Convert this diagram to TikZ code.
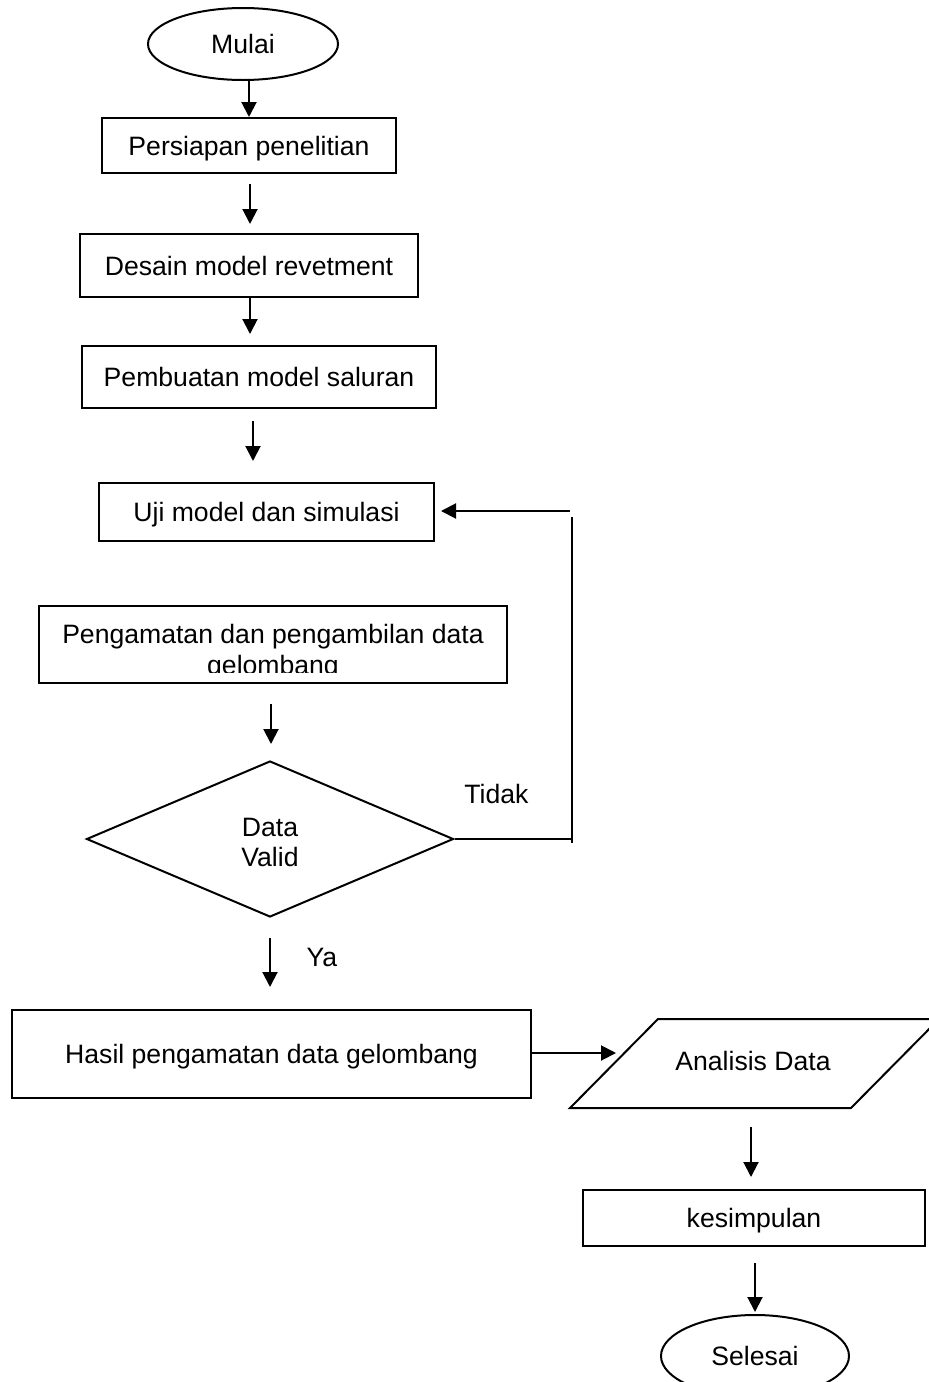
\documentclass[tikz,border=0pt]{standalone}
\usepackage{fontspec}
\setmainfont{Liberation Sans}
\usetikzlibrary{arrows.meta,shapes.geometric,calc}
\begin{document}
\begin{tikzpicture}[x=1pt,y=-1pt,
  every node/.style={font=\fontsize{26.6}{30.6}\selectfont},
  box/.style={draw,line width=2pt,inner sep=0pt,text height=19pt,text depth=0pt},
  term/.style={draw,ellipse,line width=2pt,inner sep=0pt,text height=19pt,text depth=0pt},
  lbl/.style={anchor=base,inner sep=0pt},
  arr/.style={line width=2pt,-{Triangle[length=15pt,width=15pt]}},
  ln/.style={line width=2pt}]
\clip (0,0) rectangle (929,1382);
% nodes
\node[term,minimum width=190pt,minimum height=72pt] (mulai) at (243,44) {Mulai};
\node[box,minimum width=294pt,minimum height=55pt] (box1) at (249,145.5) {Persiapan penelitian};
\node[box,minimum width=338pt,minimum height=63pt] (box2) at (249,265.5) {Desain model revetment};
\node[box,minimum width=354pt,minimum height=62pt] (box3) at (259,377) {Pembuatan model saluran};
\node[box,minimum width=335pt,minimum height=58pt] (uji) at (266.5,512) {Uji model dan simulasi};
\node[box,minimum width=468pt,minimum height=77pt] (obs) at (273,644.5) {};
\begin{scope}
  \clip (41,608) rectangle (505,672);
  \node[lbl] (obs1) at (273,643) {Pengamatan dan pengambilan data};
  \node[lbl] (obs2) at (273,674) {gelombang};
\end{scope}
\node[diamond,draw,line width=2pt,inner sep=0pt,minimum width=367pt,minimum height=156pt] (valid) at (270,839) {};
\node[lbl] (vt1) at (270,836) {Data};
\node[lbl] (vt2) at (270,866) {Valid};
\node[lbl] (tidak) at (496.5,803) {Tidak};
\node[lbl] (ya) at (322,966) {Ya};
\node[box,minimum width=519pt,minimum height=88pt] (hasil) at (271.5,1054) {Hasil pengamatan data gelombang};
% parallelogram
\coordinate (pbl) at (570,1108);
\coordinate (pbr) at (851,1108);
\coordinate (ptr) at (939,1019);
\coordinate (ptl) at (658,1019);
\draw[ln] (pbl) -- (pbr) -- (ptr) -- (ptl) -- cycle;
\node[lbl] (analisis) at (753,1070) {Analisis Data};
\coordinate (pin) at (616,1054);
\coordinate (pout) at (751,1108);
\node[box,minimum width=342pt,minimum height=56pt] (kes) at (754,1218) {kesimpulan};
\node[term,minimum width=188pt,minimum height=82pt] (selesai) at (755,1356) {Selesai};
% connectors
\draw[arr] (box1.north |- mulai.south) -- (box1.north);
\draw[arr] ($(box1.south)+(1,10)$) -- ($(box2.north)+(1,-9)$);
\draw[arr] ($(box2.south)+(1,0)$) -- ($(box2.south |- box3.north)+(1,-11)$);
\draw[arr] ($(box3.south)+(-6,12)$) -- ($(box3.south |- uji.north)+(-6,-21)$);
\draw[arr] ($(obs.south)+(-2,20)$) -- ($(obs.south |- valid.north)+(-2,-16)$);
\draw[arr] ($(valid.south)+(0,20)$) -- ($(valid.south |- hasil.north)+(0,-22)$);
\draw[arr] ($(hasil.east)+(0,-1)$) -- ($(pin)+(0,-1)$);
\draw[arr] ($(pout)+(0,19)$) -- ($(pout |- kes.north)+(0,-12)$);
\draw[arr] ($(kes.south)+(1,16)$) -- ($(selesai.north)+(0,-2)$);
% loop back (Tidak)
\coordinate (lb) at (573,839);
\coordinate (lv1) at (572,843);
\coordinate (lv2) at (572,517);
\coordinate (lt) at (570,511);
\draw[ln] (valid.east) -- (lb);
\draw[ln] (lv1) -- (lv2);
\draw[arr] (lt) -- ($(uji.east)+(6,-1)$);
\end{tikzpicture}
\end{document}
